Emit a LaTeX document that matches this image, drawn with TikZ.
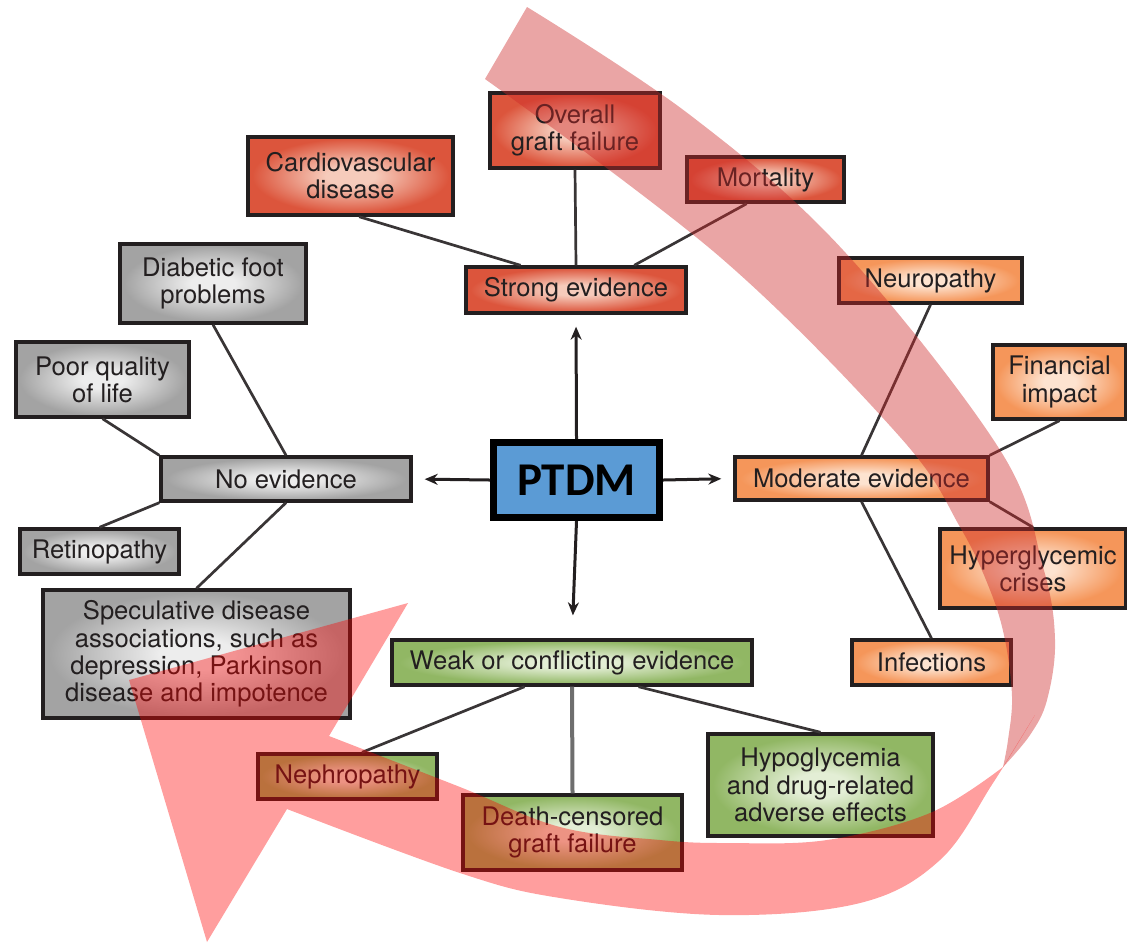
\documentclass[tikz,border=0pt]{standalone}
\usepackage{fontspec}
\setmainfont{TeX Gyre Heros}
\newfontfamily\ptdmfont{Carlito}
\usetikzlibrary{arrows.meta}
\definecolor{inkdark}  {HTML}{231F20}
\definecolor{stemgray} {HTML}{6E6E6E}
\definecolor{redout}   {HTML}{DC553C}
\definecolor{redin}    {HTML}{F6CBBB}
\definecolor{grayout}  {HTML}{A3A3A3}
\definecolor{grayin}   {HTML}{EDEDED}
\definecolor{orangeout}{HTML}{F5965A}
\definecolor{orangein} {HTML}{FDE3D0}
\definecolor{greenout} {HTML}{91B764}
\definecolor{greenin}  {HTML}{E3EED5}
\definecolor{ptdmblue} {HTML}{5B9BD5}
\definecolor{bandtop}  {RGB}{205,40,40}
\definecolor{bandlow}  {RGB}{255,0,0}

\pgfdeclareradialshading{glowred}{\pgfpoint{0bp}{0bp}}{color(0bp)=(redin); color(6bp)=(redin); color(24bp)=(redout); color(50bp)=(redout)}
\pgfdeclareradialshading{glowgray}{\pgfpoint{0bp}{0bp}}{color(0bp)=(grayin); color(6bp)=(grayin); color(24bp)=(grayout); color(50bp)=(grayout)}
\pgfdeclareradialshading{gloworange}{\pgfpoint{0bp}{0bp}}{color(0bp)=(orangein); color(6bp)=(orangein); color(24bp)=(orangeout); color(50bp)=(orangeout)}
\pgfdeclareradialshading{glowgreen}{\pgfpoint{0bp}{0bp}}{color(0bp)=(greenin); color(6bp)=(greenin); color(24bp)=(greenout); color(50bp)=(greenout)}

\begin{document}
\begin{tikzpicture}[
    x=0.5pt, y=-0.5pt,
    box/.style={draw=inkdark, line width=1.7pt, align=center, inner sep=0pt,
                text=inkdark, font=\fontsize{12.8}{13.6}\selectfont},
    redbox/.style={box, shade, shading=glowred},
    graybox/.style={box, shade, shading=glowgray},
    orangebox/.style={box, shade, shading=gloworange},
    greenbox/.style={box, shade, shading=glowgreen},
    link/.style={line width=1.35pt, draw=inkdark!90},
    arr/.style={-{Stealth[length=6.5pt, width=5.5pt]}, line width=1.5pt,
                draw=inkdark, shorten >=6pt},
    upband/.style={fill=bandtop, fill opacity=0.42},
    lowband/.style={fill=bandlow, fill opacity=0.38},
  ]
    \useasboundingbox (0,0) rectangle (1127,944);

    % Hub
    \node[draw=black, line width=3.5pt, fill=ptdmblue, minimum width=83pt,
          minimum height=37.5pt, font=\ptdmfont\bfseries\fontsize{23.5}{24}\selectfont]
          (ptdm) at (576.5,480) {PTDM};

    % Strong evidence, top
    \node[redbox, minimum width=110pt, minimum height=23pt] (strong) at (576,290)
      {Strong evidence};
    \node[redbox, minimum width=102.5pt, minimum height=39pt] (cardio) at (350.5,176)
      {Cardiovascular\\disease};
    \node[redbox, minimum width=85pt, minimum height=37.5pt] (overall) at (575,130.5)
      {Overall\\graft failure};
    \node[redbox, minimum width=78.5pt, minimum height=22.5pt] (mort) at (765.5,179.5)
      {Mortality};

    % No evidence, left
    \node[graybox, minimum width=125pt, minimum height=22pt] (noev) at (286,479)
      {No evidence};
    \node[graybox, minimum width=93pt, minimum height=39.5pt] (diab) at (213,283.5)
      {Diabetic foot\\problems};
    \node[graybox, minimum width=86.5pt, minimum height=37.5pt] (poor) at (102.5,379.5)
      {Poor quality\\of life};
    \node[graybox, minimum width=79.5pt, minimum height=22.5pt] (retino) at (99.5,551.5)
      {Retinopathy};
    \node[graybox, minimum width=153.5pt, minimum height=64pt] (specul) at (196.5,654)
      {Speculative disease\\associations, such as\\depression, Parkinson\\disease and impotence};

    % Moderate evidence, right
    \node[orangebox, minimum width=126.5pt, minimum height=21.5pt] (moder) at (861.5,478.5)
      {Moderate evidence};
    \node[orangebox, minimum width=91.5pt, minimum height=22.5pt] (neuro) at (930.5,280.5)
      {Neuropathy};
    \node[orangebox, minimum width=66.5pt, minimum height=37pt] (fin) at (1059.5,382)
      {Financial\\impact};
    \node[orangebox, minimum width=93pt, minimum height=39.5pt] (hyper) at (1033,568.5)
      {Hyperglycemic\\crises};
    \node[orangebox, minimum width=79.5pt, minimum height=22.5pt] (infect) at (931.5,662.5)
      {Infections};

    % Weak or conflicting evidence, bottom
    \node[greenbox, minimum width=180pt, minimum height=22.5pt] (weak) at (572,662.5)
      {Weak or conflicting evidence};
    \node[greenbox, minimum width=89.5pt, minimum height=22.5pt] (nephro) at (347.5,776.5)
      {Nephropathy};
    \node[greenbox, minimum width=109.5pt, minimum height=37.5pt] (death) at (572.5,832.5)
      {Death-censored\\graft failure};
    \node[greenbox, minimum width=112.5pt, minimum height=51pt] (hypo) at (820.5,785)
      {Hypoglycemia\\and drug-related\\adverse effects};

    % Links to the evidence boxes
    \draw[link] (cardio.-78) -- (strong.156);
    \draw[link] (overall.south) -- (strong.north);
    \draw[link] (mort.-128) -- (strong.23);
    \draw[link] (diab.south) -- (noev.north);
    \draw[link] (poor.south) -- (noev.north west);
    \draw[link] (retino.north) -- (noev.south west);
    \draw[link] (specul.north) -- (noev.south);
    \draw[link] (neuro.south) -- (moder.north);
    \draw[link] (fin.south) -- (moder.north east);
    \draw[link] (hyper.north) -- (moder.south east);
    \draw[link] (infect.north) -- (moder.south);
    \draw[link] (weak.-153) -- (nephro.59);
    \draw[link, draw=stemgray, line width=2pt] (weak.south) -- (death.north);
    \draw[link] (weak.-20) -- (hypo.north);

    % Arrows out of the hub
    \draw[arr] (ptdm.north) -- (strong.south);
    \draw[arr] (ptdm.west) -- (noev.east);
    \draw[arr] (ptdm.east) -- (moder.west);
    \draw[arr, shorten >=11.5pt] (ptdm.south) -- (weak.north);

    % Big curved overlay arrow
    \fill[upband] plot[smooth, tension=0.6] coordinates {(527,7) (690,115) (843,250)
        (1000,450) (1043,567) (1055,640) (1047,700) (1030,735) (1003,767)}
      -- plot[smooth, tension=0.6] coordinates {(1003,767) (1008,740) (1012,697)
        (1005,640) (990,590) (960,527) (900,437) (720,257) (485,79)} -- cycle;
    \fill[lowband] plot[smooth, tension=0.6] coordinates {(1035,715) (993,783)
        (940,860) (860,903) (720,915) (560,898) (460,873) (287,809)}
      -- (207,942) -- (129,680) -- (408,603)
      -- plot[smooth, tension=0.6] coordinates {(329,736) (460,787) (560,827)
        (660,840) (727,843) (827,840) (930,813) (1003,767)} -- cycle;
  \end{tikzpicture}
\end{document}
